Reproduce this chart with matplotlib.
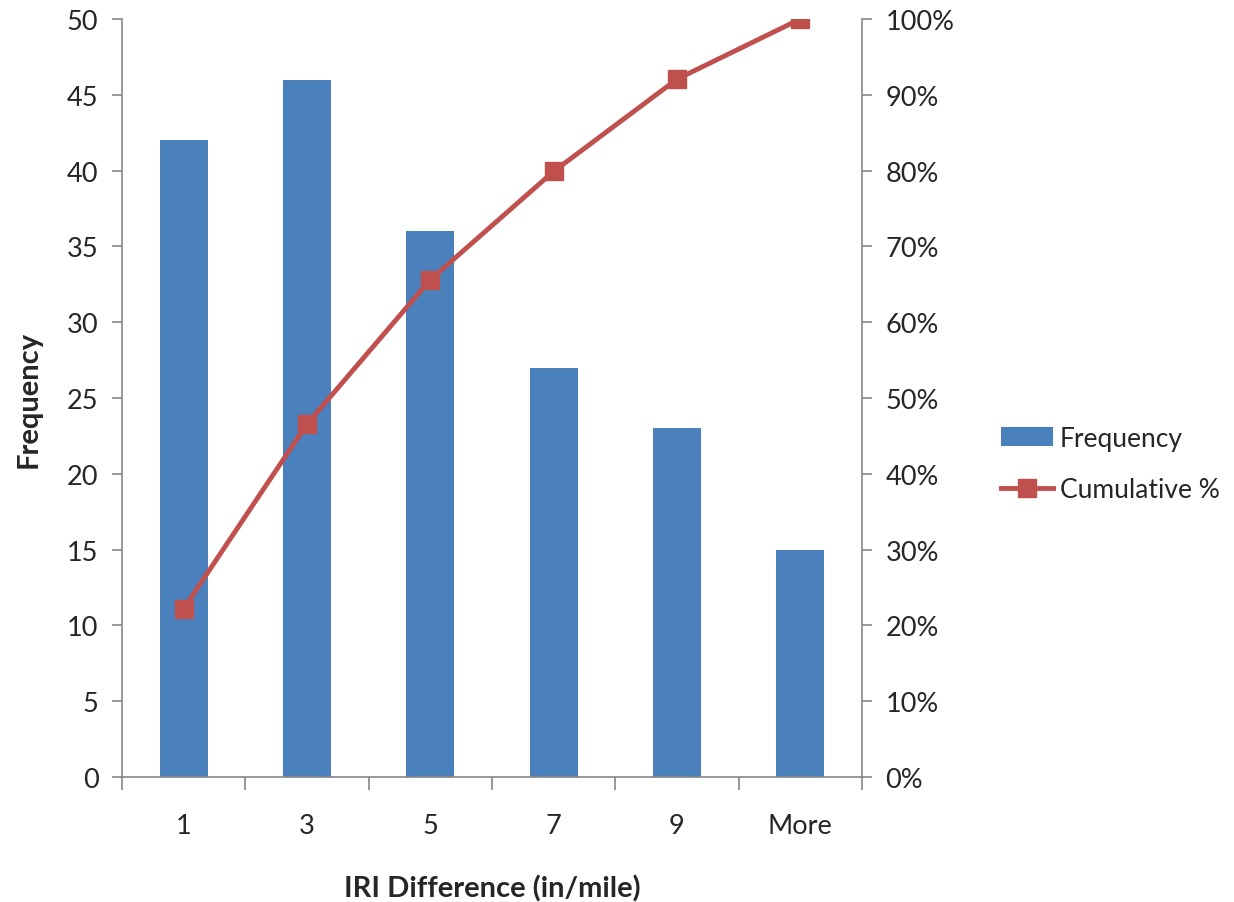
import matplotlib
matplotlib.use("Agg")
import matplotlib.pyplot as plt
from matplotlib.ticker import FuncFormatter, FixedLocator, NullFormatter
from matplotlib.lines import Line2D
from matplotlib.patches import Patch
import numpy as np

plt.rcParams['font.family'] = ['Lato', 'DejaVu Sans']

bins = ["1", "3", "5", "7", "9", "More"]
frequency = [42, 46, 36, 27, 23, 15]
cumulative = np.cumsum(frequency) / np.sum(frequency)

bar_color = "#4A81BD"
line_color = "#C0504D"
axis_color = "#868686"
text_color = "#262626"
tick_size = 19.5

fig = plt.figure(figsize=(12.34, 9.03), dpi=100)
ax = fig.add_axes([122 / 1234, 1 - 778 / 903, (862 - 122) / 1234, (778 - 20) / 903])

x = np.arange(len(bins))
ax.bar(x, frequency, width=0.39, color=bar_color, zorder=2)
ax.set_xlim(-0.5, len(bins) - 0.5)
ax.set_ylim(0, 50)
ax.set_yticks(range(0, 51, 5))

# category labels centred, tick marks on the boundaries
ax.set_xticks(x)
ax.set_xticklabels(bins)
ax.xaxis.set_minor_locator(FixedLocator(np.arange(-0.5, len(bins), 1.0)))
ax.xaxis.set_minor_formatter(NullFormatter())
ax.tick_params(axis='x', which='major', length=0, pad=26, labelsize=tick_size, labelcolor=text_color)
ax.tick_params(axis='x', which='minor', length=9, width=1.2, color=axis_color, direction='out')
ax.tick_params(axis='y', length=7, width=1.2, color=axis_color, labelsize=tick_size,
               labelcolor=text_color, pad=10)

for side in ("top", "right"):
    ax.spines[side].set_visible(False)
for side in ("left", "bottom"):
    ax.spines[side].set_color(axis_color)
    ax.spines[side].set_linewidth(1.2)

ax.set_ylabel("Frequency", fontsize=21, fontweight='bold', color=text_color, labelpad=18)
ax.set_xlabel("IRI Difference (in/mile)", fontsize=21, fontweight='bold', color=text_color, labelpad=26)

ax2 = ax.twinx()
ax2.plot(x, cumulative, color=line_color, linewidth=3.5, marker='s', markersize=13,
         markerfacecolor=line_color, markeredgecolor=line_color, zorder=3)
ax2.set_ylim(0, 1)
ax2.set_yticks(np.arange(0, 1.01, 0.1))
ax2.yaxis.set_major_formatter(FuncFormatter(lambda v, _: f"{v * 100:.0f}%"))
ax2.tick_params(axis='y', length=7, width=1.2, color=axis_color, labelsize=tick_size,
                labelcolor=text_color, pad=10)
for side in ("top", "left", "bottom"):
    ax2.spines[side].set_visible(False)
ax2.spines["right"].set_color(axis_color)
ax2.spines["right"].set_linewidth(1.2)

handles = [
    Patch(facecolor=bar_color, edgecolor='none', label="Frequency"),
    Line2D([0], [0], color=line_color, linewidth=3.5, marker='s', markersize=13, label="Cumulative %"),
]
fig.legend(handles=handles, loc='center left', bbox_to_anchor=(990 / 1234, 1 - 465 / 903),
           frameon=False, fontsize=19, labelspacing=1.0, handlelength=2.0, handletextpad=0.25,
           borderaxespad=0, labelcolor=text_color)

fig.savefig("out.png", dpi=100, facecolor="white")
